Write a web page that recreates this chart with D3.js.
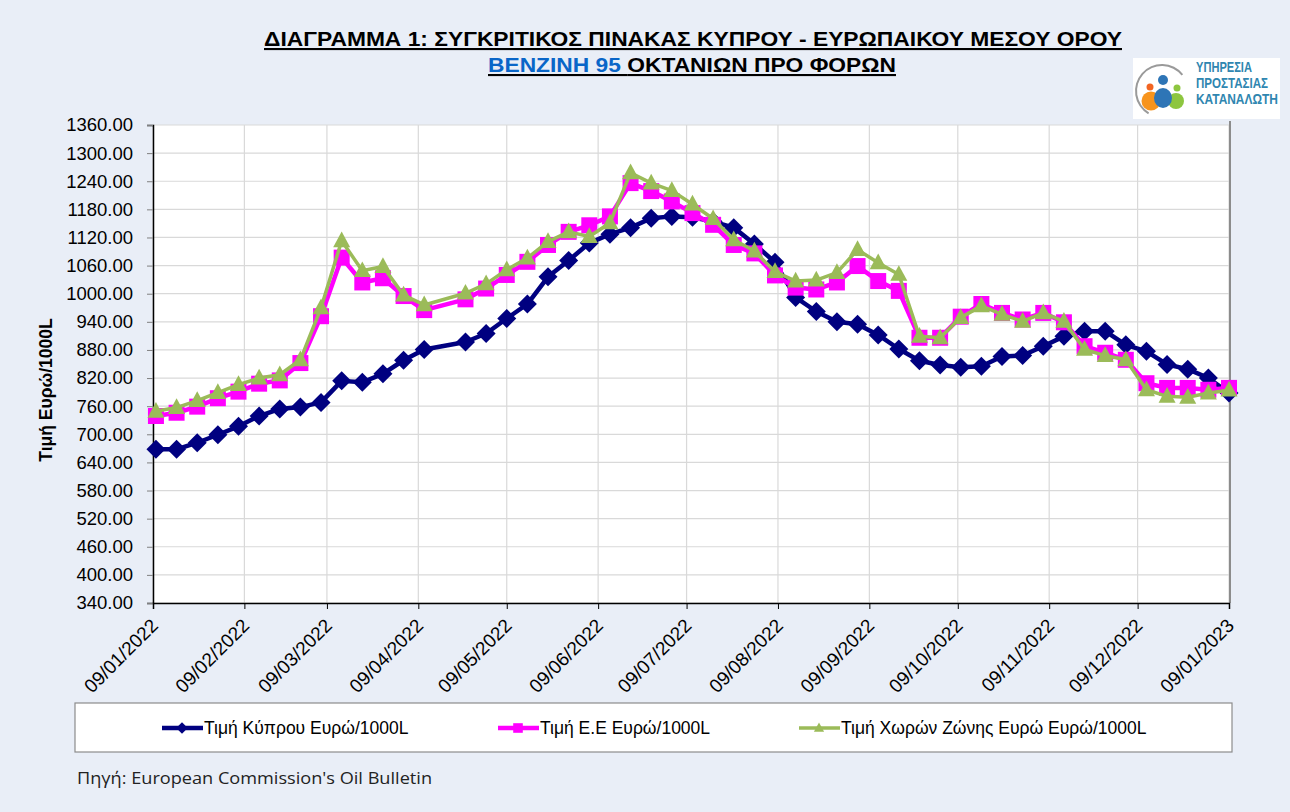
<!DOCTYPE html>
<html>
<head>
<meta charset="utf-8">
<script src="https://cdn.jsdelivr.net/npm/d3@7"></script>
<style>
  body { margin: 0; background: #e9eef7; }
  svg { display: block; font-family: "Liberation Sans", Arial, sans-serif; }
</style>
</head>
<body>
<script>
const width = 1290;
const height = 812;

// weekly Oil Bulletin dates (no bulletin for 18/04/2022)
const dates = [
    "2022-01-10", "2022-01-17", "2022-01-24", "2022-01-31", "2022-02-07", "2022-02-14", "2022-02-21", "2022-02-28",
    "2022-03-07", "2022-03-14", "2022-03-21", "2022-03-28", "2022-04-04", "2022-04-11", "2022-04-25", "2022-05-02",
    "2022-05-09", "2022-05-16", "2022-05-23", "2022-05-30", "2022-06-06", "2022-06-13", "2022-06-20", "2022-06-27",
    "2022-07-04", "2022-07-11", "2022-07-18", "2022-07-25", "2022-08-01", "2022-08-08", "2022-08-15", "2022-08-22",
    "2022-08-29", "2022-09-05", "2022-09-12", "2022-09-19", "2022-09-26", "2022-10-03", "2022-10-10", "2022-10-17",
    "2022-10-24", "2022-10-31", "2022-11-07", "2022-11-14", "2022-11-21", "2022-11-28", "2022-12-05", "2022-12-12",
    "2022-12-19", "2022-12-26", "2023-01-02", "2023-01-09"
];

const cyprus = [
    668, 668, 682, 699, 717, 739, 754, 758, 768, 814, 811, 829, 858, 881, 897, 915,
    947, 978, 1036, 1071, 1108, 1127, 1141, 1161, 1165, 1163, 1154, 1141, 1106, 1067, 992, 962,
    940, 935, 912, 882, 857, 848, 843, 845, 866, 868, 888, 909, 920, 920, 891, 877,
    849, 839, 820, 788
];

const eu = [
    739, 746, 759, 777, 791, 808, 815, 852, 952, 1077, 1024, 1033, 995, 965, 988, 1011,
    1040, 1068, 1104, 1132, 1146, 1165, 1236, 1219, 1197, 1172, 1147, 1104, 1086, 1039, 1013, 1009,
    1024, 1059, 1027, 1006, 906, 906, 951, 978, 959, 945, 959, 939, 888, 874, 859, 809,
    799, 799, 795, 799
];

const euroArea = [
    749, 757, 772, 789, 806, 820, 827, 859, 970, 1113, 1049, 1058, 997, 976, 1001, 1021,
    1051, 1076, 1111, 1132, 1122, 1151, 1258, 1236, 1220, 1191, 1160, 1115, 1091, 1047, 1027, 1029,
    1045, 1094, 1066, 1041, 909, 906, 949, 974, 956, 941, 959, 941, 881, 868, 859, 795,
    781, 779, 788, 794
];

const seriesNames = [
    "Τιμή Κύπρου Ευρώ/1000L",
    "Τιμή Ε.Ε Ευρώ/1000L",
    "Τιμή Χωρών Ζώνης Ευρώ Ευρώ/1000L"
];

const yTicks = d3.range(340, 1361, 60);
const xTicks = d3.range(0, 13).map(i => new Date(2022, i, 9));

const parse = d3.timeParse("%Y-%m-%d");

const series = [
    { name: seriesNames[0], values: cyprus, color: "#000080", width: 4.5, marker: "diamond" },
    { name: seriesNames[1], values: eu, color: "#ff00ff", width: 4.5, marker: "square" },
    { name: seriesNames[2], values: euroArea, color: "#9bbb59", width: 3.5, marker: "triangle" }
];

const margin = { left: 153, right: 1229, top: 125, bottom: 603 };

const x = d3.scaleTime()
    .domain([new Date(2022, 0, 9), new Date(2023, 0, 9)])
    .range([margin.left, margin.right]);

const y = d3.scaleLinear()
    .domain([340, 1360])
    .range([margin.bottom, margin.top]);

const svg = d3.select("body").append("svg")
    .attr("width", width)
    .attr("height", height);

// plot area
svg.append("rect")
    .attr("x", margin.left)
    .attr("y", margin.top)
    .attr("width", margin.right - margin.left)
    .attr("height", margin.bottom - margin.top)
    .attr("fill", "white");

// gridlines
svg.append("g")
    .selectAll("line")
    .data(yTicks)
    .enter().append("line")
    .attr("x1", margin.left)
    .attr("x2", margin.right)
    .attr("y1", d => y(d))
    .attr("y2", d => y(d))
    .attr("stroke", "#d9d9d9")
    .attr("stroke-width", 1.2);

svg.append("g")
    .selectAll("line")
    .data(xTicks)
    .enter().append("line")
    .attr("x1", d => x(d))
    .attr("x2", d => x(d))
    .attr("y1", margin.top)
    .attr("y2", margin.bottom)
    .attr("stroke", "#d9d9d9")
    .attr("stroke-width", 1.2);

// right border of plot area
svg.append("line")
    .attr("x1", margin.right + 1)
    .attr("x2", margin.right + 1)
    .attr("y1", margin.top - 4)
    .attr("y2", margin.bottom)
    .attr("stroke", "#8c8c8c")
    .attr("stroke-width", 2);

// y axis
const yAxis = svg.append("g")
    .attr("transform", `translate(${margin.left},0)`)
    .call(d3.axisLeft(y).tickValues(yTicks).tickFormat(d3.format(".2f")).tickSize(6).tickPadding(14));

yAxis.select(".domain").attr("stroke", "#000").attr("stroke-width", 1.5);
yAxis.selectAll(".tick line").attr("stroke", "#808080");
yAxis.selectAll("text")
    .attr("font-size", 18.5)
    .attr("fill", "#000")
    .attr("font-family", "Liberation Sans, Arial, sans-serif");

// x axis
const xAxis = svg.append("g")
    .attr("transform", `translate(0,${margin.bottom})`)
    .call(d3.axisBottom(x).tickValues(xTicks).tickFormat(d3.timeFormat("%d/%m/%Y")).tickSize(6));

xAxis.select(".domain").attr("stroke", "#000").attr("stroke-width", 1.5);
xAxis.selectAll(".tick line").attr("stroke", "#000");
xAxis.selectAll("text")
    .attr("font-size", 19)
    .attr("fill", "#000")
    .attr("font-family", "Liberation Sans, Arial, sans-serif")
    .attr("text-anchor", "end")
    .attr("dy", "0.35em")
    .attr("y", 0)
    .attr("transform", "translate(1,19) rotate(-45)");

// y axis title
svg.append("text")
    .attr("transform", "translate(52,390) rotate(-90)")
    .attr("text-anchor", "middle")
    .attr("font-size", 17.5)
    .attr("font-weight", "bold")
    .text("Τιμή Ευρώ/1000L");

// markers
function markerPath(type, s) {
    if (type === "diamond") return `M0,${-s}L${s},0L0,${s}L${-s},0Z`;
    if (type === "square") return `M${-s},${-s}H${s}V${s}H${-s}Z`;
    return `M0,${-s * 1.1}L${s},${s * 0.75}L${-s},${s * 0.75}Z`;
}
const markerSize = { diamond: 9.5, square: 8, triangle: 8.5 };

const line = d3.line()
    .x(d => x(d.date))
    .y(d => y(d.value));

series.forEach(s => {
    const pts = dates.map((d, i) => ({ date: parse(d), value: s.values[i] }));
    const g = svg.append("g");
    g.append("path")
        .datum(pts)
        .attr("d", line)
        .attr("fill", "none")
        .attr("stroke", s.color)
        .attr("stroke-width", s.width)
        .attr("stroke-linejoin", "round");
    g.selectAll(".pt")
        .data(pts)
        .enter().append("path")
        .attr("class", "pt")
        .attr("transform", d => `translate(${x(d.date)},${y(d.value)})`)
        .attr("d", markerPath(s.marker, markerSize[s.marker]))
        .attr("fill", s.color);
});

// title
svg.append("text")
    .attr("x", 264)
    .attr("y", 46)
    .attr("font-size", 21)
    .attr("font-weight", "bold")
    .attr("text-decoration", "underline")
    .attr("textLength", 858)
    .attr("lengthAdjust", "spacingAndGlyphs")
    .text("ΔΙΑΓΡΑΜΜΑ 1: ΣΥΓΚΡΙΤΙΚΟΣ ΠΙΝΑΚΑΣ ΚΥΠΡΟΥ - ΕΥΡΩΠΑΙΚΟΥ ΜΕΣΟΥ ΟΡΟΥ");

const sub = svg.append("text")
    .attr("x", 488)
    .attr("y", 72)
    .attr("font-size", 21)
    .attr("font-weight", "bold")
    .attr("text-decoration", "underline")
    .attr("textLength", 408)
    .attr("lengthAdjust", "spacingAndGlyphs");
sub.append("tspan").attr("fill", "#0a66c8").text("ΒΕΝΖΙΝΗ 95 ");
sub.append("tspan").attr("fill", "#000").text("ΟΚΤΑΝΙΩΝ ΠΡΟ ΦΟΡΩΝ");

// logo
const logo = svg.append("g");
logo.append("rect")
    .attr("x", 1133).attr("y", 58).attr("width", 147).attr("height", 61)
    .attr("fill", "white");
logo.append("path")
    .attr("d", d3.arc()({ innerRadius: 25, outerRadius: 27, startAngle: -2.6, endAngle: 0.9 }))
    .attr("transform", "translate(1162,91)")
    .attr("fill", "#9a9a9a");
logo.append("circle").attr("cx", 1151).attr("cy", 101).attr("r", 9.5).attr("fill", "#f7941d");
logo.append("circle").attr("cx", 1176).attr("cy", 101).attr("r", 8).attr("fill", "#8dc63f");
logo.append("ellipse").attr("cx", 1163).attr("cy", 98).attr("rx", 9).attr("ry", 10).attr("fill", "#2e75b6");
logo.append("circle").attr("cx", 1163).attr("cy", 80).attr("r", 5).attr("fill", "#2e75b6");
logo.append("circle").attr("cx", 1150).attr("cy", 87).attr("r", 3.5).attr("fill", "#f26522");
logo.append("circle").attr("cx", 1177).attr("cy", 88).attr("r", 3.5).attr("fill", "#8dc63f");

// logo text: narrow lettering, squeezed horizontally to its box
const logoLines = ["ΥΠΗΡΕΣΙΑ", "ΠΡΟΣΤΑΣΙΑΣ", "ΚΑΤΑΝΑΛΩΤΗ"];
const logoLens = [56, 72, 82];
logoLines.forEach((t, i) => {
    const g = logo.append("g");
    const txt = g.append("text")
        .attr("x", 0)
        .attr("y", 0)
        .attr("font-size", 14)
        .attr("font-weight", "bold")
        .attr("fill", "#2f86b0")
        .text(t);
    const natural = txt.node().getComputedTextLength();
    g.attr("transform", `translate(1196,${72 + i * 16}) scale(${logoLens[i] / natural},1)`);
});

// legend
const legend = svg.append("g");
legend.append("rect")
    .attr("x", 75).attr("y", 703).attr("width", 1157).attr("height", 49)
    .attr("fill", "white")
    .attr("stroke", "#8c8c8c")
    .attr("stroke-width", 1.2);

const legendX = [162, 498, 799];
series.forEach((s, i) => {
    const lx = legendX[i];
    legend.append("line")
        .attr("x1", lx).attr("x2", lx + 41)
        .attr("y1", 728).attr("y2", 728)
        .attr("stroke", s.color)
        .attr("stroke-width", s.width);
    legend.append("path")
        .attr("transform", `translate(${lx + 20},728)`)
        .attr("d", markerPath(s.marker, markerSize[s.marker] * 0.6))
        .attr("fill", s.color);
    legend.append("text")
        .attr("x", lx + 42)
        .attr("y", 734)
        .attr("font-size", 17.5)
        .attr("fill", "#000")
        .text(s.name);
});

// source
svg.append("text")
    .attr("x", 77)
    .attr("y", 784)
    .attr("font-size", 16)
    .attr("font-family", "Open Sans, sans-serif")
    .attr("fill", "#222")
    .attr("textLength", 355)
    .attr("lengthAdjust", "spacingAndGlyphs")
    .text("Πηγή: European Commission's Oil Bulletin");
</script>
</body>
</html>
